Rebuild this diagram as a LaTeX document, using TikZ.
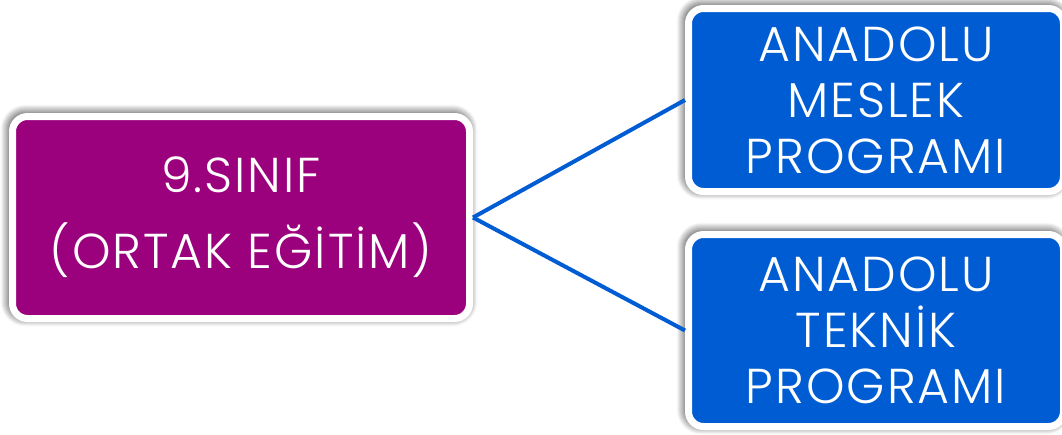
\documentclass[tikz,border=0pt]{standalone}
\usepackage{fontspec}
\setmainfont{Poppins Light}[LetterSpace=4]
\usetikzlibrary{shadows.blur}

\definecolor{sinifpurple}{RGB}{155,0,125}
\definecolor{programblue}{RGB}{0,92,210}

\begin{document}
\begin{tikzpicture}[x=1pt,y=-1pt,
  programbox/.style={draw=white, line width=7pt, rounded corners=15pt,
    blur shadow={shadow xshift=-2pt, shadow yshift=2pt, shadow blur radius=10pt,
      shadow blur steps=10, shadow opacity=100},
    text=white, align=center, inner sep=0pt},
  branchline/.style={draw=programblue, line width=4pt}]

\useasboundingbox (0,0) rectangle (1062,434);

\newcommand\boxwidth{375}

\node[programbox, fill=sinifpurple, minimum width=457pt, minimum height=202pt,
      font=\fontsize{49}{76}\selectfont] (ortak) at (241,217.5)
      {9.SINIF\\(ORTAK EĞİTİM)};

\node[programbox, fill=programblue, minimum width=\boxwidth pt, minimum height=183pt,
      font=\fontsize{49}{56}\selectfont] (meslek) at (876,100)
      {ANADOLU\\MESLEK\\PROGRAMI};

\node[programbox, fill=programblue, minimum width=\boxwidth pt, minimum height=192pt,
      font=\fontsize{49}{56}\selectfont] (teknik) at (876,330.5)
      {ANADOLU\\TEKNİK\\PROGRAMI};

% connectors from the left box to both programmes
\draw[branchline] (ortak.east) -- (meslek.west);
\draw[branchline] (ortak.east) -- (teknik.west);

\end{tikzpicture}
\end{document}
